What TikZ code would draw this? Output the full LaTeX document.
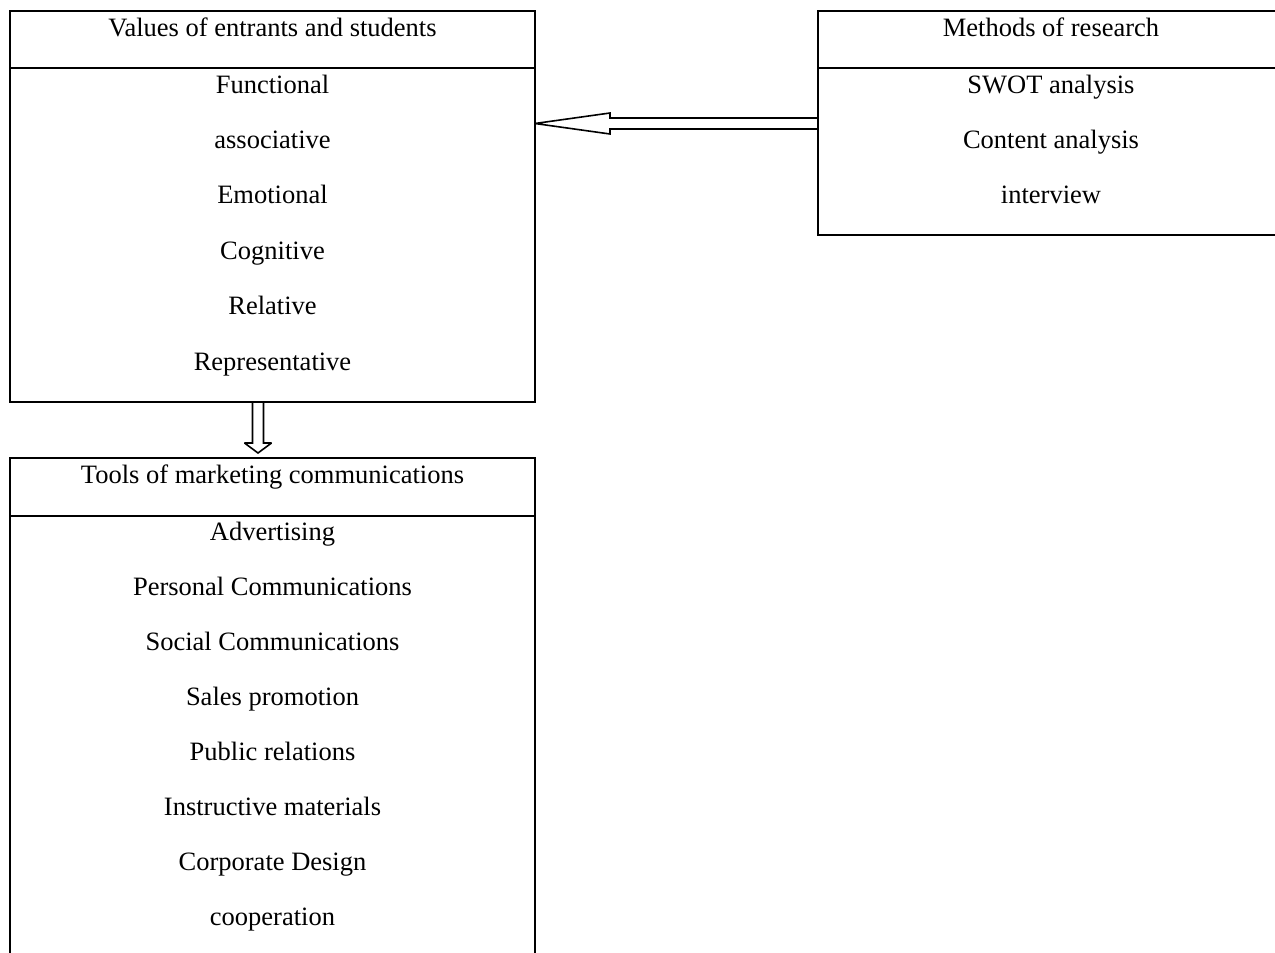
\documentclass[tikz,border=0pt]{standalone}
\usepackage{fontspec}
\setmainfont{Liberation Serif}
\usetikzlibrary{positioning,calc}

\begin{document}
\begin{tikzpicture}[x=0.5pt, y=-0.5pt,
    frame/.style={rectangle, draw, line width=1pt, inner sep=0pt, outer sep=0pt, anchor=north west},
    txt/.style={anchor=base, inner sep=0pt, font=\fontsize{13.25}{16}\selectfont},
    hollow/.style={draw, line width=0.8pt, line join=miter, miter limit=3}
]
    \useasboundingbox (0,0) rectangle (1275,953);

    % Values box
    \node[frame, minimum width=262.5pt, minimum height=28.5pt] (valhead) at (10,11) {};
    \node[frame, minimum width=262.5pt, minimum height=167pt, below=0pt of valhead] (valbody) {};
    \node[txt] (valtitle) at ($(valhead.north)+(0,25)$) {Values of entrants and students};
    \foreach \t [count=\i from 0] in {Functional, associative, Emotional, Cognitive, Relative, Representative}
        \node[txt] (val\i) at ($(valbody.north)+(0,25+55.4*\i)$) {\t};

    % Methods box
    \node[frame, minimum width=233pt, minimum height=28.5pt] (methhead) at (818,11) {};
    \node[frame, minimum width=233pt, minimum height=83.5pt, below=0pt of methhead] (methbody) {};
    \node[txt] (methtitle) at ($(methhead.north)+(0,25)$) {Methods of research};
    \foreach \t [count=\i from 0] in {SWOT analysis, Content analysis, interview}
        \node[txt] (meth\i) at ($(methbody.north)+(0,25+55.4*\i)$) {\t};

    % Tools box
    \node[frame, minimum width=262.5pt, minimum height=29pt] (toolhead) at (10,458) {};
    \node[frame, minimum width=262.5pt, minimum height=223pt, below=0pt of toolhead] (toolbody) {};
    \node[txt] (tooltitle) at ($(toolhead.north)+(0,25)$) {Tools of marketing communications};
    \foreach \t [count=\i from 0] in {Advertising, Personal Communications, Social Communications, Sales promotion, Public relations, Instructive materials, Corporate Design, cooperation}
        \node[txt] (tool\i) at ($(toolbody.north)+(0,24+55*\i)$) {\t};

    % Arrows
    \coordinate (hstart) at ($(methbody.north west)+(0,55.5)$);
    \coordinate (htip) at ($(valbody.north east)+(0,55.5)$);
    \draw[hollow] ($(hstart)+(0,-5.5)$) -- ($(htip)+(75,-5.5)$) -- ($(htip)+(75,-10.5)$)
        -- (htip) -- ($(htip)+(75,10.5)$) -- ($(htip)+(75,5.5)$) -- ($(hstart)+(0,5.5)$);

    \coordinate (vstart) at ($(valbody.south)+(-14.5,0)$);
    \coordinate (vtip) at ($(toolhead.north)+(-14.5,-5)$);
    \draw[hollow] ($(vstart)+(-5.5,0)$) -- ($(vtip)+(-5.5,-10)$) -- ($(vtip)+(-13.5,-10)$)
        -- (vtip) -- ($(vtip)+(13.5,-10)$) -- ($(vtip)+(5.5,-10)$) -- ($(vstart)+(5.5,0)$);

\end{tikzpicture}
\end{document}
